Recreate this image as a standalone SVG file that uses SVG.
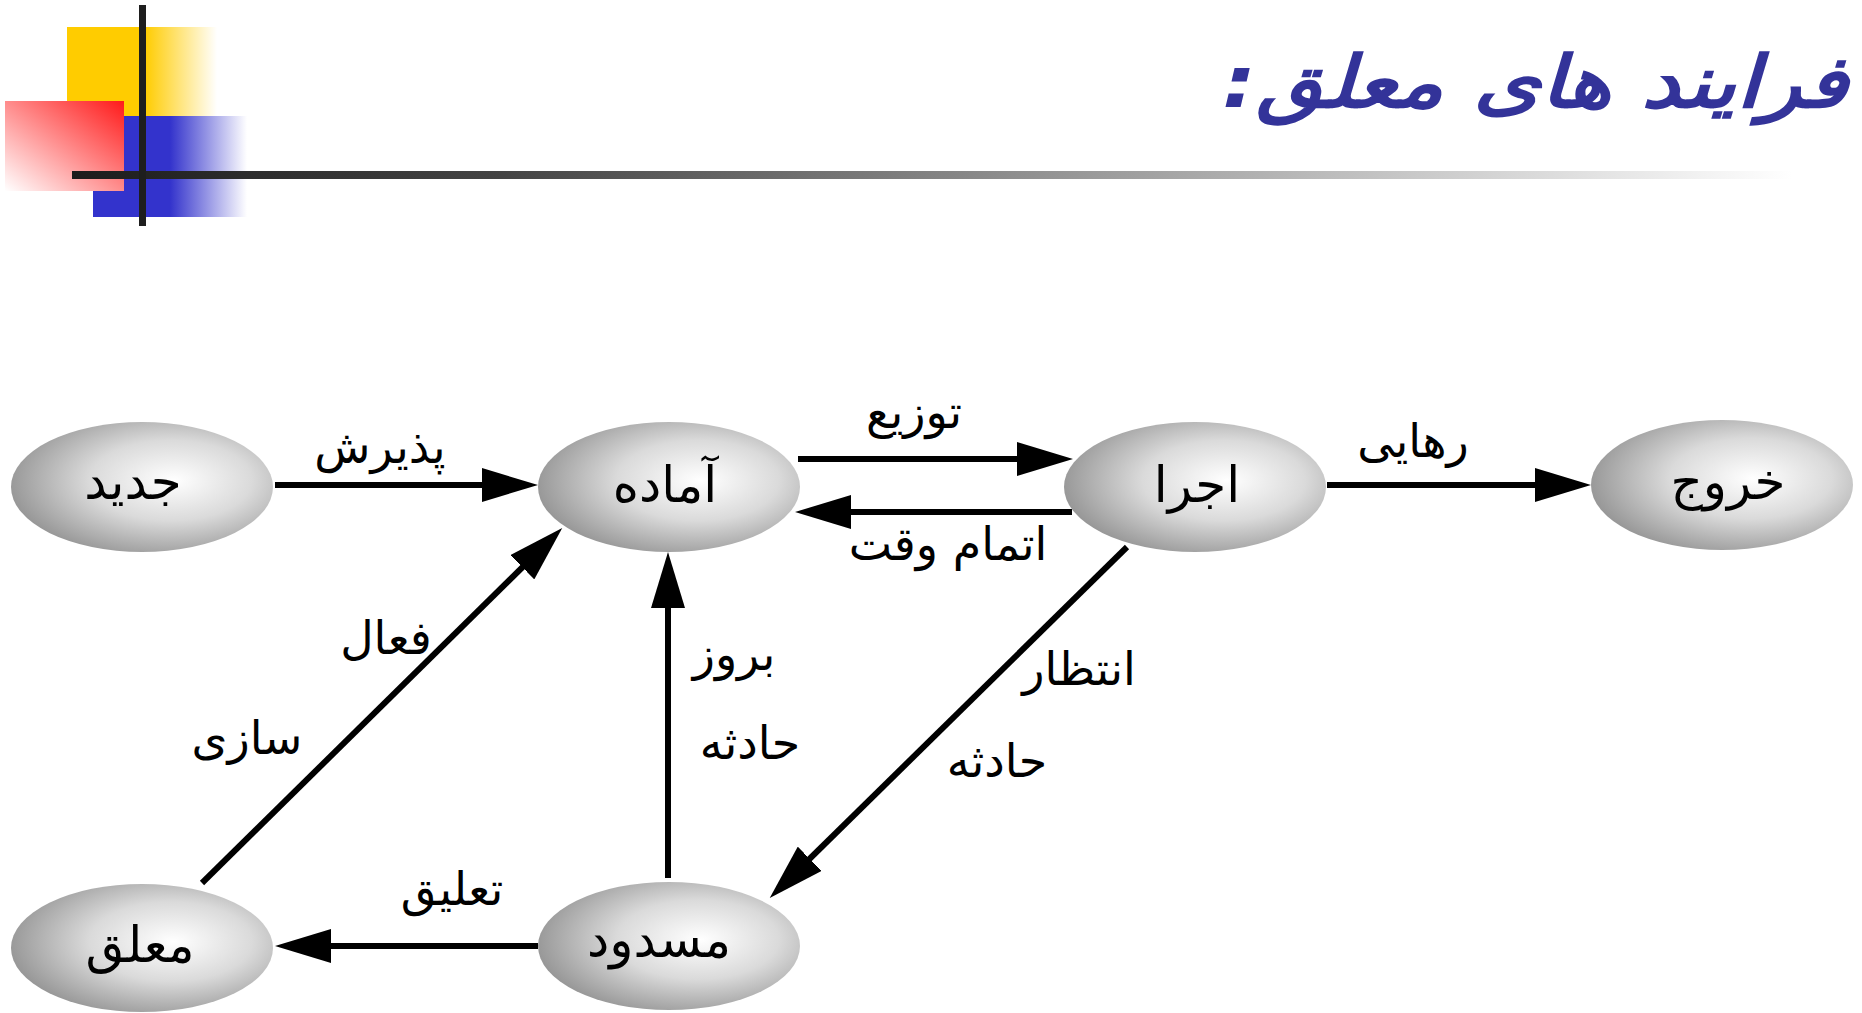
<svg xmlns="http://www.w3.org/2000/svg" width="1862" height="1013" viewBox="0 0 1862 1013">
  <style>
    .node-shape { fill: url(#sphere); }
    .node-label { font-family: "DejaVu Sans", sans-serif; font-size: 50px; fill: #000; text-anchor: middle; }
    .edge { stroke: #000; stroke-width: 6; fill: none; marker-end: url(#head); }
    .edge-label { font-family: "DejaVu Sans", sans-serif; font-size: 46px; fill: #000; text-anchor: middle; }
    .title { font-family: "DejaVu Sans", sans-serif; font-weight: bold; font-style: italic; font-size: 72px; fill: #333399; text-anchor: middle; }
  </style>
  <defs>
    <radialGradient id="sphere" cx="0.6" cy="0.45" r="0.62" fx="0.62" fy="0.45">
      <stop offset="0" stop-color="#ffffff"/>
      <stop offset="0.5" stop-color="#dadada"/>
      <stop offset="1" stop-color="#959595"/>
    </radialGradient>
    <linearGradient id="yellowFade" x1="0" y1="0" x2="1" y2="0">
      <stop offset="0" stop-color="#ffcc00"/>
      <stop offset="0.52" stop-color="#ffcc00"/>
      <stop offset="1" stop-color="#ffcc00" stop-opacity="0"/>
    </linearGradient>
    <linearGradient id="blueFade" x1="0" y1="0" x2="1" y2="0">
      <stop offset="0" stop-color="#3333cc"/>
      <stop offset="0.5" stop-color="#3333cc"/>
      <stop offset="1" stop-color="#3333cc" stop-opacity="0"/>
    </linearGradient>
    <linearGradient id="redFade" x1="1" y1="0" x2="0" y2="1">
      <stop offset="0" stop-color="#ff1a1a"/>
      <stop offset="1" stop-color="#ffffff"/>
    </linearGradient>
    <linearGradient id="ruleFade" x1="0" y1="0" x2="1" y2="0">
      <stop offset="0" stop-color="#1c1c1c"/>
      <stop offset="0.25" stop-color="#444444"/>
      <stop offset="1" stop-color="#ffffff"/>
    </linearGradient>
    <marker id="head" markerUnits="userSpaceOnUse" markerWidth="56" markerHeight="34" refX="36" refY="17" orient="auto">
      <path d="M0,0 L56,17 L0,34 Z" fill="#000"/>
    </marker>
  </defs>

  <rect width="1862" height="1013" fill="#fff"/>

  <!-- header ornament -->
  <g id="header">
    <rect x="67" y="27" width="150" height="89" fill="url(#yellowFade)"/>
    <rect x="93" y="116" width="154" height="101" fill="url(#blueFade)"/>
    <rect x="5" y="101" width="119" height="90" fill="url(#redFade)"/>
    <rect x="72" y="171" width="1720" height="8" fill="url(#ruleFade)"/>
    <rect x="139" y="5" width="7" height="221" fill="#1e1e1e"/>
    <text class="title" direction="rtl" transform="translate(1535,107) scale(1.19,1)">فرایند های معلق:</text>
  </g>

  <!-- connectors -->
  <g id="connectors">
    <line class="edge" x1="275" y1="485" x2="518" y2="485"/>
    <line class="edge" x1="798" y1="459" x2="1053" y2="459"/>
    <line class="edge" x1="1072" y1="512" x2="815" y2="512"/>
    <line class="edge" x1="1327" y1="485" x2="1571" y2="485"/>
    <line class="edge" x1="1127" y1="547" x2="784" y2="884"/>
    <line class="edge" x1="668" y1="878" x2="668" y2="572"/>
    <line class="edge" x1="538" y1="946" x2="295" y2="946"/>
    <line class="edge" x1="202" y1="883" x2="548" y2="542"/>

    <text class="edge-label" x="380" y="463">پذیرش</text>
    <text class="edge-label" x="914" y="428">توزیع</text>
    <text class="edge-label" x="948" y="560">اتمام وقت</text>
    <text class="edge-label" x="1413" y="457">رهایی</text>
    <text class="edge-label" x="1079" y="685">انتظار</text>
    <text class="edge-label" x="997" y="777">حادثه</text>
    <text class="edge-label" x="734" y="670">بروز</text>
    <text class="edge-label" x="750" y="759">حادثه</text>
    <text class="edge-label" x="386" y="654">فعال</text>
    <text class="edge-label" x="247" y="754">سازی</text>
    <text class="edge-label" x="452" y="905">تعلیق</text>
  </g>

  <!-- states -->
  <g id="node-new">
    <ellipse class="node-shape" cx="142" cy="487" rx="131" ry="65"/>
    <text class="node-label" x="133" y="499">جدید</text>
  </g>
  <g id="node-ready">
    <ellipse class="node-shape" cx="669" cy="487" rx="131" ry="65"/>
    <text class="node-label" x="665" y="502">آماده</text>
  </g>
  <g id="node-running">
    <ellipse class="node-shape" cx="1195" cy="487" rx="131" ry="65"/>
    <text class="node-label" x="1197" y="502">اجرا</text>
  </g>
  <g id="node-exit">
    <ellipse class="node-shape" cx="1722" cy="485" rx="131" ry="65"/>
    <text class="node-label" x="1728" y="499">خروج</text>
  </g>
  <g id="node-suspended">
    <ellipse class="node-shape" cx="142" cy="948" rx="131" ry="64"/>
    <text class="node-label" x="140" y="962">معلق</text>
  </g>
  <g id="node-blocked">
    <ellipse class="node-shape" cx="669" cy="946" rx="131" ry="64"/>
    <text class="node-label" x="659" y="957">مسدود</text>
  </g>
</svg>
